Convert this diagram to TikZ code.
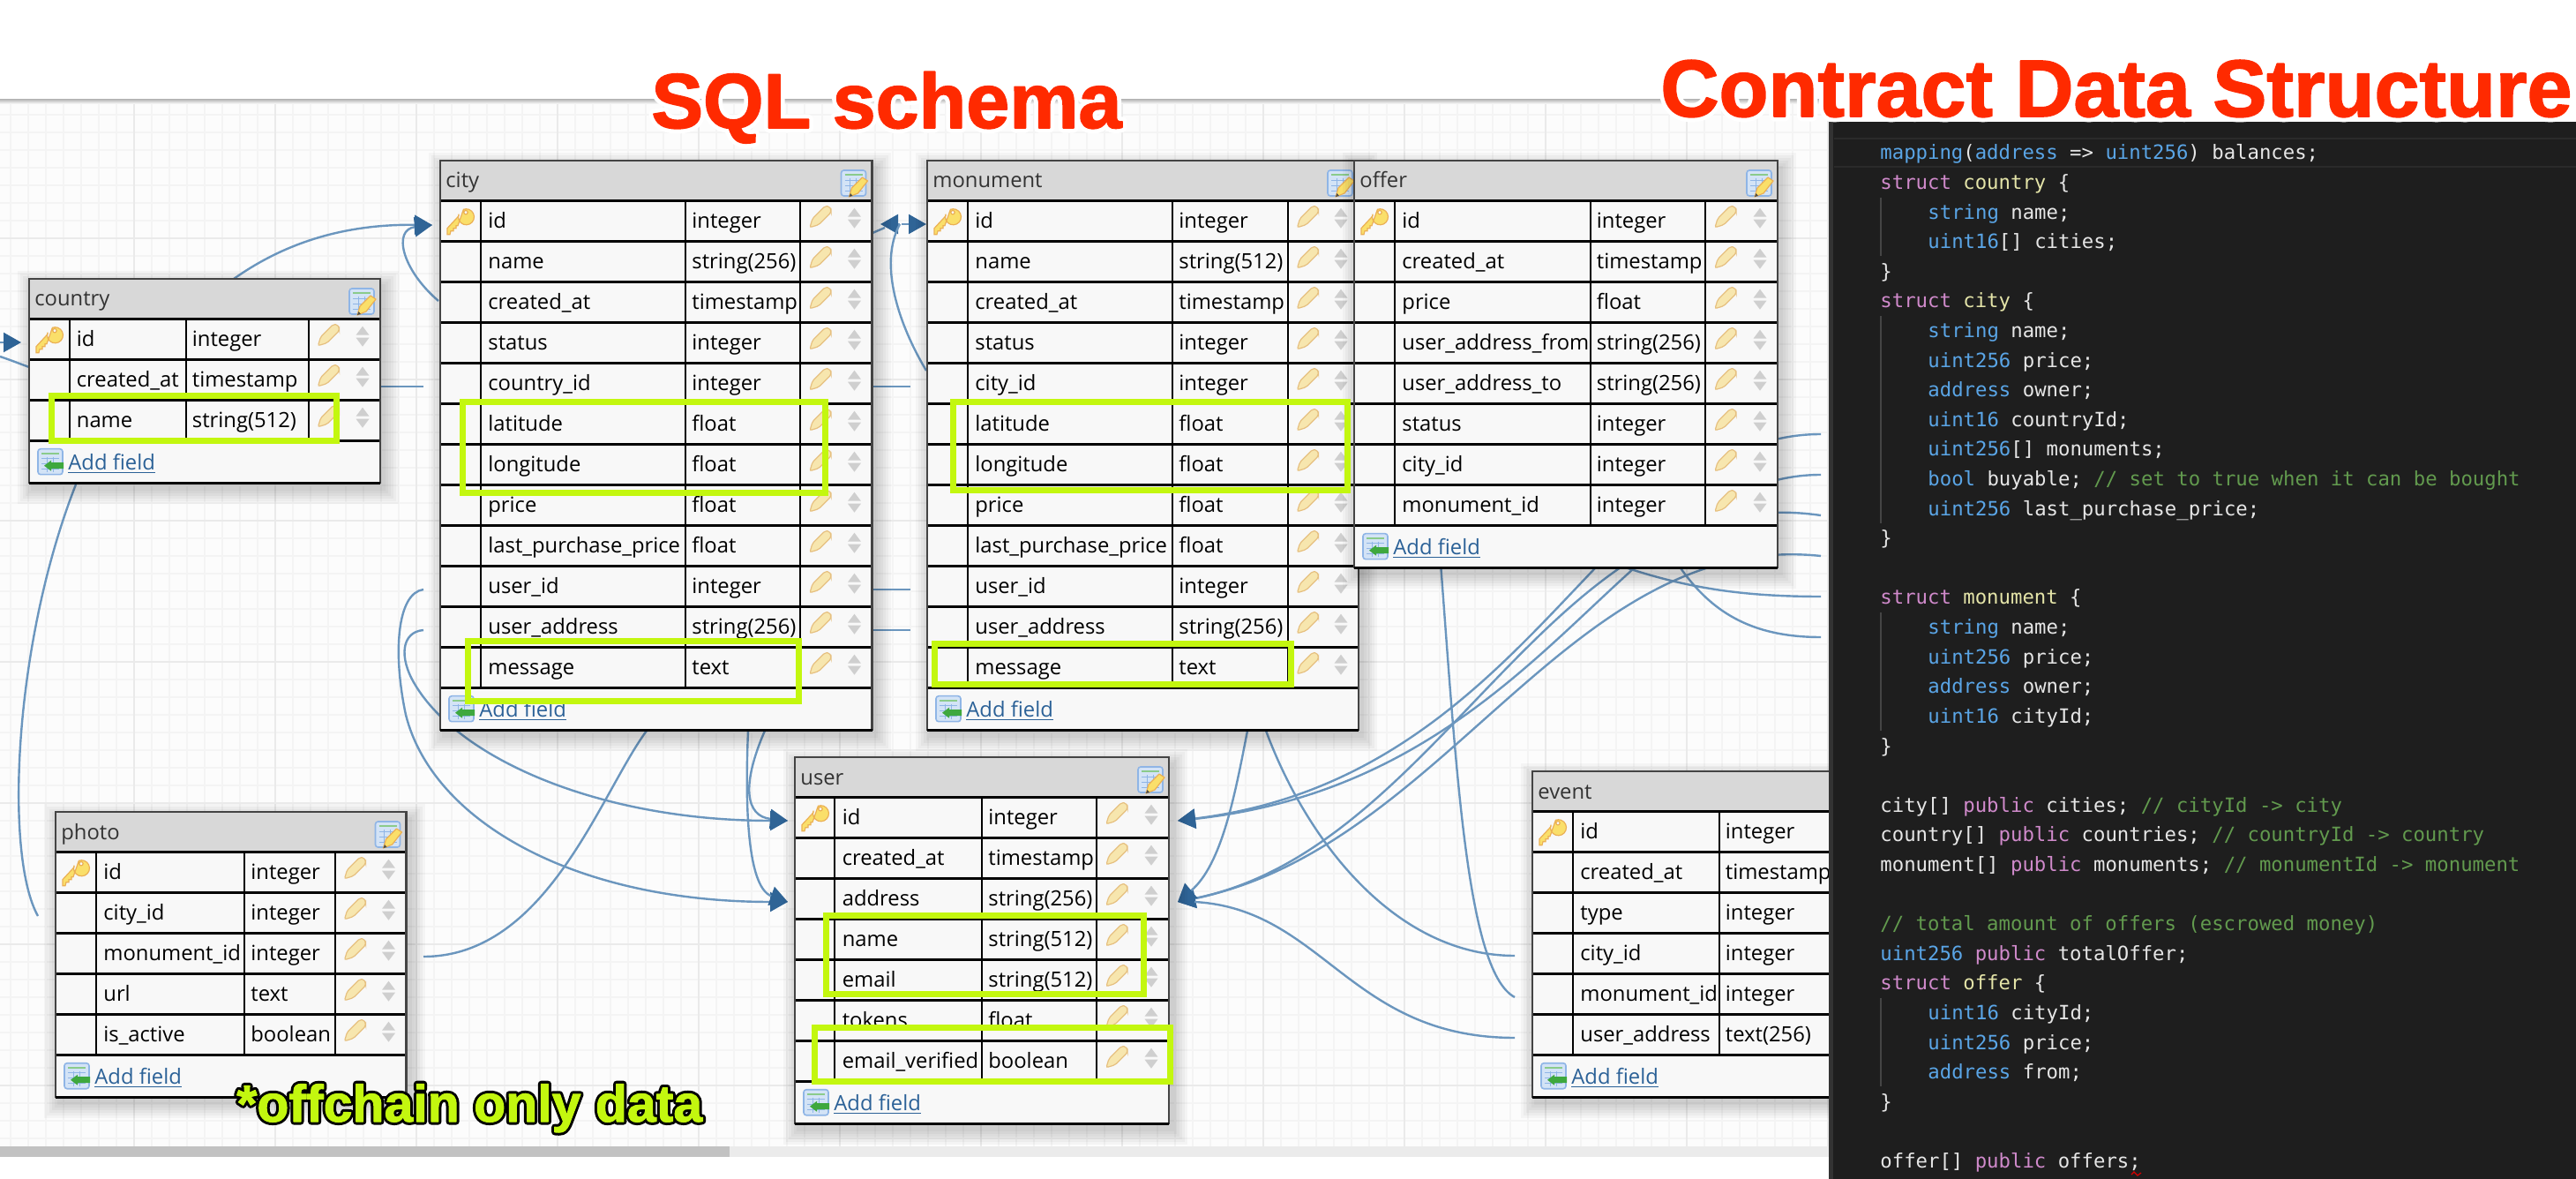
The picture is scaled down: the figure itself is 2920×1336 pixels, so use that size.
\documentclass[tikz,border=0pt]{standalone}
\usepackage{fontspec}
\setmainfont{Open Sans}
\setmonofont{DejaVu Sans Mono}
\newfontfamily\titlefont{Liberation Sans}
\usetikzlibrary{arrows.meta}
\definecolor{gridminor}{HTML}{F4F4F4}
\definecolor{gridmajor}{HTML}{EAEAEA}
\definecolor{linkc}{HTML}{6B96BE}
\definecolor{tipc}{HTML}{2F6496}
\definecolor{hdrc}{HTML}{D8D8D8}
\definecolor{rowc}{HTML}{F8F8F8}
\definecolor{edgec}{HTML}{444444}
\definecolor{lime}{HTML}{C3F70F}
\definecolor{titlered}{HTML}{FF2A00}
\definecolor{linktext}{HTML}{2B6197}
\definecolor{panelc}{HTML}{1E1E1E}
\definecolor{panelb}{HTML}{333333}
\definecolor{lineb}{HTML}{2A2A2A}
\definecolor{guidec}{HTML}{454545}
\definecolor{codew}{HTML}{E6E6E6}
\definecolor{codeb}{HTML}{5AA5E6}
\definecolor{codep}{HTML}{D08ACB}
\definecolor{codey}{HTML}{E4E4A8}
\definecolor{codeg}{HTML}{629A4E}
\definecolor{keyfill}{HTML}{FADF6A}
\definecolor{keyedge}{HTML}{EBB055}
\definecolor{penfill}{HTML}{F7E6AE}
\definecolor{penedge}{HTML}{E6C080}
\definecolor{sortc}{HTML}{CFCFCF}
\definecolor{sheetf}{HTML}{D3E3F6}
\definecolor{sheete}{HTML}{8FB5E6}
\definecolor{greenm}{HTML}{3EA83E}
\tikzset{
  conn/.style={draw=linkc,line width=1.2pt},
  connarrow/.style={conn,-{Triangle[length=10pt,width=11pt,color=tipc]}},
  rule/.style={draw=black,line width=1.25pt},
  celltext/.style={inner sep=0pt,anchor=base west,text=black,font=\fontsize{11.9}{14}\selectfont},
  headtext/.style={inner sep=0pt,anchor=base west,text=black!80,font=\fontsize{11.9}{14}\selectfont},
  linktextstyle/.style={inner sep=0pt,anchor=base west,text=linktext,font=\fontsize{11.9}{14}\selectfont},
  codetext/.style={inner sep=0pt,anchor=base west,text=codew,font=\ttfamily\fontsize{11.15}{14}\selectfont},
  mark box/.style={draw=lime,line width=3.5pt},
  guide/.style={draw=guidec,line width=0.6pt},
}
\newcommand{\cb}[1]{\textcolor{codeb}{#1}}
\newcommand{\cp}[1]{\textcolor{codep}{#1}}
\newcommand{\cy}[1]{\textcolor{codey}{#1}}
\newcommand{\cg}[1]{\textcolor{codeg}{#1}}
% halo width, halo colour, text, thickening of the glyphs
\newcommand{\halotext}[4]{\rlap{\color{#2}\special{pdf:code 2 Tr #1 w 1 j}#3\special{pdf:code 0 Tr 1 w 0 j}}\special{pdf:code 2 Tr #4 w 1 j}#3\special{pdf:code 0 Tr 1 w 0 j}}
\newcommand{\keyicon}[2]{\begin{scope}[shift={(#1,#2)}]
  \filldraw[fill=keyfill,draw=keyedge,line width=0.6pt,even odd rule]
    (-15,9) -- (-2,-5) -- (-2,-7) arc[start angle=200,end angle=-110,radius=9] -- (-3,6)
    -- (-5,6) -- (-5,9) -- (-8,9) -- (-8,12) -- (-11,12) -- (-12,16) -- (-15,16) -- cycle
    (6,-9) circle[radius=2.2];
\end{scope}}
\newcommand{\penicon}[2]{\begin{scope}[shift={(#1,#2)}]
  \filldraw[fill=penfill,draw=penedge,line width=0.6pt,rounded corners=1pt]
    (-12,12) -- (-9,2) -- (5,-12) -- (10,-12) -- (12,-8) -- (12,-5) -- (-2,9) -- cycle;
\end{scope}}
\newcommand{\sorticon}[2]{\begin{scope}[shift={(#1,#2)}]
  \fill[sortc] (-7.5,-4) -- (0,-14) -- (7.5,-4) -- cycle (-7.5,-1) -- (0,9) -- (7.5,-1) -- cycle;
\end{scope}}
\newcommand{\sheeticon}[2]{\begin{scope}[shift={(#1,#2)}]
  \filldraw[fill=sheetf,draw=sheete,line width=0.8pt,rounded corners=1.5pt] (0,0) rectangle (28,29);
  \draw[greenm!60,line width=1pt] (4,5) -- (24,5);
  \draw[sheete,line width=0.4pt] (4,11) -- (24,11) (4,17) -- (24,17) (4,23) -- (24,23) (10,9) -- (10,26) (17,9) -- (17,26);
\end{scope}}
\newcommand{\editicon}[2]{\sheeticon{#1}{#2}\begin{scope}[shift={(#1,#2)}]
  \filldraw[fill=keyfill,draw=keyedge,line width=0.6pt,line join=round] (9,30) -- (12,20) -- (24,8) -- (30,12) -- (19,26) -- cycle;
  \fill[black!70] (9,30) -- (10.5,26) -- (13,29) -- cycle;
\end{scope}}
\newcommand{\addicon}[2]{\sheeticon{#1}{#2}\begin{scope}[shift={(#1,#2)}]
  \fill[greenm] (29,15.5) -- (15,15.5) -- (15,13) -- (7,19) -- (15,25) -- (15,22.5) -- (29,22.5) -- cycle;
\end{scope}}
% name, x0, c1, c2, c3, x4, ytop, nrows, rows
\newcommand{\dbtable}[9]{%
  \pgfmathsetmacro{\ybot}{#7+45.7+46*#8+48}%
  \pgfmathsetmacro{\yrow}{#7+45.7}%
  \pgfmathsetmacro{\yend}{#7+45.7+46*#8}%
  \foreach \s in {2,5,8,11,14,17}
    \fill[black,opacity=0.03] ({#2-\s+4},{#7-\s+8}) rectangle ({#6+\s+4},{\ybot+\s+6});
  \fill[rowc] (#2,#7) rectangle (#6,\ybot);
  \fill[hdrc] (#2,#7) rectangle (#6,\yrow);
  \node[headtext] (#1-head) at ({#2+6},{#7+31}) {#1};
  \editicon{#6-35}{#7+11}
  \foreach \n/\t [count=\i from 0] in {#9} {
    \draw[rule] (#2,{\yrow+46*\i}) -- (#6,{\yrow+46*\i});
    \node[celltext] (#1-n\i) at ({#3+8},{\yrow+31+46*\i}) {\n};
    \node[celltext] (#1-t\i) at ({#4+7},{\yrow+31+46*\i}) {\t};
    \penicon{#5+23}{\yrow+18+46*\i}
    \sorticon{#6-20}{\yrow+22+46*\i}
  }
  \draw[rule] (#2,\yend) -- (#6,\yend);
  \draw[rule,line width=1pt] (#3,\yrow) -- (#3,\yend) (#4,\yrow) -- (#4,\yend) (#5,\yrow) -- (#5,\yend);
  \keyicon{#2+23}{\yrow+22}
  \addicon{#2+10}{\yend+9}
  \node[linktextstyle] (#1-add) at ({#2+44},{\yend+33}) {\underline{Add field}};
  \draw[draw=edgec,line width=1.2pt] (#2,\ybot) -- (#2,#7) -- (#6,#7) -- (#6,\ybot);
  \draw[draw=black,line width=1.4pt] (#2,\ybot) -- (#6,\ybot);
}
\newcommand{\codeline}[3]{\node[codetext] (code#1) at (#2,{181+33.6*#1}) {#3};}
\begin{document}
\begin{tikzpicture}[x=0.5pt,y=-0.5pt]
\useasboundingbox (0,0) rectangle (2920,1336);
\fill[white] (0,0) rectangle (2920,1336);
% canvas
\fill[white!99!black] (0,113) rectangle (2073,1299);
\foreach \gx in {12,32,...,2072} \draw[gridminor,line width=1pt] (\gx,113) -- (\gx,1299);
\foreach \gy in {130,150,...,1290} \draw[gridminor,line width=1pt] (0,\gy) -- (2073,\gy);
\foreach \gx in {152,312,...,2072} \draw[gridmajor,line width=1pt] (\gx,113) -- (\gx,1299);
\foreach \gy in {270,430,...,1230} \draw[gridmajor,line width=1pt] (0,\gy) -- (2073,\gy);
\shade[top color=black!28,bottom color=white!0] (0,112.5) rectangle (2073,118);
\fill[black!8] (0,1299) rectangle (2073,1310.5);
\fill[black!24] (0,1299) rectangle (827,1310.5);
% connector ends
\coordinate (countryTop) at (265,316);
\coordinate (cityIn) at (490,255);
\coordinate (cityCreated) at (497,341);
\coordinate (countryInTail) at (0,388);
\coordinate (countryIn) at (24,388);
\coordinate (countryLow0) at (0,404);
\coordinate (countryLow1) at (33,416);
\coordinate (countryR0) at (432,438);
\coordinate (countryR1) at (480,438);
\coordinate (countryBot) at (86,549);
\coordinate (photoOut) at (43,1038);
\coordinate (cityUid) at (480,668);
\coordinate (cityUaddr) at (480,714);
\coordinate (userIdIn) at (893,930);
\coordinate (userAddrIn) at (893,1022);
\coordinate (photoMon) at (480,1084);
\coordinate (cityBotA) at (733,828);
\coordinate (cityBotB) at (848,828);
\coordinate (cityBotC) at (867,828);
\coordinate (monBotA) at (1414,828);
\coordinate (monBotB) at (1435,828);
\coordinate (userIdR) at (1335,930);
\coordinate (userAddrR) at (1335,1022);
\coordinate (userAddrS) at (1354,1022);
\coordinate (off1) at (2064,492);
\coordinate (off2) at (2064,538);
\coordinate (off3) at (2064,584);
\coordinate (off4) at (2064,630);
\coordinate (off5) at (2064,676);
\coordinate (off6) at (2064,722);
\coordinate (offHidA) at (1780,620);
\coordinate (offHidB) at (1890,620);
\coordinate (offHidC) at (1630,600);
\coordinate (evCity) at (1717,1083);
\coordinate (evMon) at (1717,1130);
\coordinate (evUser) at (1717,1176);
\coordinate (cityR) at (989,264);
\coordinate (midA) at (1003,258);
\coordinate (midL) at (1020,254);
\coordinate (midLtip) at (998,254);
\coordinate (midR) at (1022,254);
\coordinate (monIn) at (1050,254);
\coordinate (monCity) at (1050,420);
\coordinate (cityS1a) at (989,438);
\coordinate (cityS1b) at (1032,438);
\coordinate (cityS2a) at (989,668);
\coordinate (cityS2b) at (1032,668);
\coordinate (cityS3a) at (989,714);
\coordinate (cityS3b) at (1032,714);
% connectors
\draw[connarrow] (countryTop) .. controls (330,270) and (400,254) .. (cityIn);
\draw[connarrow] (cityCreated) .. controls (455,305) and (445,260) .. (cityIn);
\draw[connarrow] (countryInTail) -- (countryIn);
\draw[conn] (countryLow0) .. controls (12,408) and (22,412) .. (countryLow1);
\draw[conn] (countryR0) -- (countryR1);
\draw[conn] (countryBot) .. controls (15,730) and (5,970) .. (photoOut);
\draw[connarrow] (cityUaddr) .. controls (455,716) and (452,745) .. (470,775) .. controls (520,860) and (680,930) .. (userIdIn);
\draw[connarrow] (cityUid) .. controls (450,672) and (445,740) .. (460,810) .. controls (490,930) and (650,1022) .. (userAddrIn);
\draw[conn] (photoMon) .. controls (620,1084) and (680,900) .. (cityBotA);
\draw[connarrow] (cityBotB) .. controls (845,900) and (845,1005) .. (userAddrIn);
\draw[connarrow] (cityBotC) .. controls (840,890) and (845,925) .. (userIdIn);
\draw[connarrow] (off1) .. controls (1820,492) and (1740,880) .. (userIdR);
\draw[connarrow] (off2) .. controls (1840,538) and (1750,885) .. (userIdR);
\draw[connarrow] (off3) .. controls (1760,540) and (1640,960) .. (userAddrR);
\draw[connarrow] (off4) .. controls (1780,600) and (1640,960) .. (userAddrR);
\draw[connarrow] (monBotA) .. controls (1400,900) and (1385,980) .. (userAddrR);
\draw[conn] (userAddrS) .. controls (1500,1030) and (1530,1176) .. (evUser);
\draw[conn] (monBotB) .. controls (1480,950) and (1580,1083) .. (evCity);
\draw[conn] (offHidC) .. controls (1650,850) and (1660,1100) .. (evMon);
\draw[conn] (off5) .. controls (1950,676) and (1880,660) .. (offHidA);
\draw[conn] (off6) .. controls (1980,722) and (1930,690) .. (offHidB);
\draw[conn] (cityR) -- (midA);
\draw[connarrow] (midL) -- (midLtip);
\draw[connarrow] (midR) -- (monIn);
\draw[conn] (monCity) .. controls (1020,370) and (995,300) .. (midL);
\draw[conn] (cityS1a) -- (cityS1b);
\draw[conn] (cityS2a) -- (cityS2b);
\draw[conn] (cityS3a) -- (cityS3b);
% tables
\dbtable{country}{33}{78.5}{210.5}{349.5}{431}{316}{3}{id/integer,created\_at/timestamp,name/string(512)}
\dbtable{city}{499}{545}{777}{907}{988.5}{182}{12}{id/integer,name/string(256),created\_at/timestamp,status/integer,country\_id/integer,latitude/float,longitude/float,price/float,last\_purchase\_price/float,user\_id/integer,user\_address/string(256),message/text}
\dbtable{monument}{1051}{1097}{1329}{1459.5}{1540}{182}{12}{id/integer,name/string(512),created\_at/timestamp,status/integer,city\_id/integer,latitude/float,longitude/float,price/float,last\_purchase\_price/float,user\_id/integer,user\_address/string(256),message/text}
\dbtable{offer}{1535}{1581}{1802.5}{1933}{2015}{182}{8}{id/integer,created\_at/timestamp,price/float,user\_address\_from/string(256),user\_address\_to/string(256),status/integer,city\_id/integer,monument\_id/integer}
\dbtable{user}{901}{946.4}{1113}{1243}{1325}{858}{7}{id/integer,created\_at/timestamp,address/string(256),name/string(512),email/string(512),tokens/float,email\_verified/boolean}
\dbtable{photo}{63}{109}{277}{379.5}{460.5}{920}{5}{id/integer,city\_id/integer,monument\_id/integer,url/text,is\_active/boolean}
\dbtable{event}{1737}{1783}{1948.5}{2078}{2160}{874}{6}{id/integer,created\_at/timestamp,type/integer,city\_id/integer,monument\_id/integer,user\_address/text(256)}
% code panel
\fill[panelc] (2073,138) rectangle (2920,1336);
\fill[panelb] (2073,138) rectangle (2078,1336);
\draw[lineb,line width=1pt] (2079,157) -- (2920,157) (2079,189) -- (2920,189);
\draw[guide] (2132,224.5) -- (2132,290);
\draw[guide] (2132,358) -- (2132,593);
\draw[guide] (2132,694) -- (2132,828);
\draw[guide] (2132,1130.6) -- (2132,1231);
\codeline{0}{2131}{\cb{mapping}(\cb{address} => \cb{uint256}) balances;}
\codeline{1}{2131}{\cp{struct} \cy{country} \{}
\codeline{2}{2185}{\cb{string} name;}
\codeline{3}{2185}{\cb{uint16}[] cities;}
\codeline{4}{2131}{\}}
\codeline{5}{2131}{\cp{struct} \cy{city} \{}
\codeline{6}{2185}{\cb{string} name;}
\codeline{7}{2185}{\cb{uint256} price;}
\codeline{8}{2185}{\cb{address} owner;}
\codeline{9}{2185}{\cb{uint16} countryId;}
\codeline{10}{2185}{\cb{uint256}[] monuments;}
\codeline{11}{2185}{\cb{bool} buyable; \cg{// set to true when it can be bought}}
\codeline{12}{2185}{\cb{uint256} last\_purchase\_price;}
\codeline{13}{2131}{\}}
\codeline{15}{2131}{\cp{struct} \cy{monument} \{}
\codeline{16}{2185}{\cb{string} name;}
\codeline{17}{2185}{\cb{uint256} price;}
\codeline{18}{2185}{\cb{address} owner;}
\codeline{19}{2185}{\cb{uint16} cityId;}
\codeline{20}{2131}{\}}
\codeline{22}{2131}{city[] \cp{public} cities; \cg{// cityId -> city}}
\codeline{23}{2131}{country[] \cp{public} countries; \cg{// countryId -> country}}
\codeline{24}{2131}{monument[] \cp{public} monuments; \cg{// monumentId -> monument}}
\codeline{26}{2131}{\cg{// total amount of offers (escrowed money)}}
\codeline{27}{2131}{\cb{uint256} \cp{public} totalOffer;}
\codeline{28}{2131}{\cp{struct} \cy{offer} \{}
\codeline{29}{2185}{\cb{uint16} cityId;}
\codeline{30}{2185}{\cb{uint256} price;}
\codeline{31}{2185}{\cb{address} from;}
\codeline{32}{2131}{\}}
\codeline{34}{2131}{offer[] \cp{public} offers;}
\draw[red!85!black,line width=0.6pt] (2416,1331) -- (2419,1328) -- (2423,1332) -- (2427,1329);
% lime highlights
\draw[mark box] (58.5,448.5) rectangle (381.5,500);
\draw[mark box] (524.5,455.5) rectangle (935.5,559);
\draw[mark box] (530.5,727) rectangle (905.5,794.5);
\draw[mark box] (1080.5,455.5) rectangle (1527.5,555.5);
\draw[mark box] (1059.5,729.5) rectangle (1463,775.5);
\draw[mark box] (936.5,1037.5) rectangle (1296.5,1126.5);
\draw[mark box] (923.5,1164.5) rectangle (1326.5,1225.5);
% titles
\node[inner sep=0pt,anchor=base west,text=titlered,font=\titlefont\bfseries\fontsize{44}{50}\selectfont] (titleSql) at (738,145) {\halotext{5.5}{white}{SQL schema}{0.8}};
\node[inner sep=0pt,anchor=base west,text=titlered,font=\titlefont\bfseries\fontsize{45.8}{50}\selectfont] (titleContract) at (1882,132) {\halotext{5.5}{white}{Contract Data Structure}{0.8}};
\node[inner sep=0pt,anchor=base west,text=lime,font=\titlefont\bfseries\fontsize{29.5}{34}\selectfont] (offchain) at (268,1271) {\halotext{3.5}{black}{*offchain only data}{0.5}};
\end{tikzpicture}
\end{document}
